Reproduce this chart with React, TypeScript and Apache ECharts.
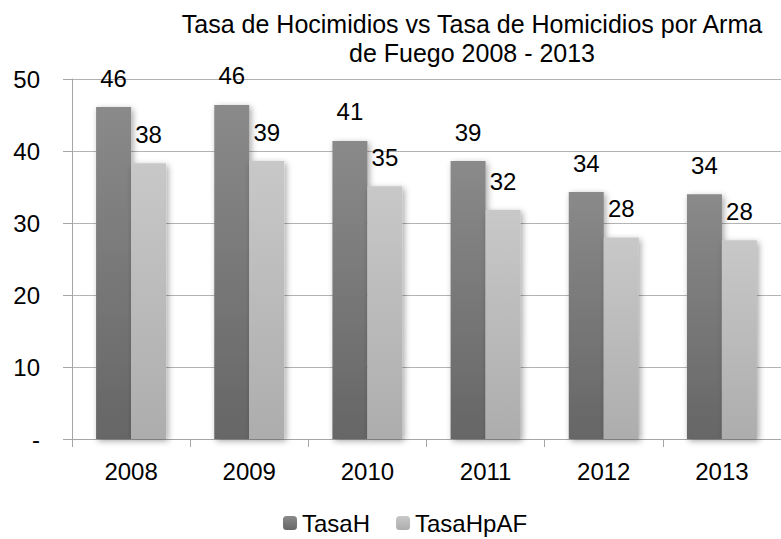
import React, { useEffect, useRef } from "react";
import * as echarts from "echarts";

const years = ["2008", "2009", "2010", "2011", "2012", "2013"];
const tasaH = [46.1, 46.4, 41.4, 38.6, 34.3, 34.0];
const tasaHpAF = [38.3, 38.6, 35.1, 31.8, 28.0, 27.6];

const FONT = "'Liberation Sans', Arial, sans-serif";

export default function App() {
  const ref = useRef<HTMLDivElement>(null);
  useEffect(() => {
    if (!ref.current) return;
    const chart = echarts.init(ref.current, undefined, { renderer: "svg" });
    const darkGrad = new echarts.graphic.LinearGradient(0, 0, 0, 1, [
      { offset: 0, color: "#8a8a8a" },
      { offset: 1, color: "#666666" },
    ]);
    const lightGrad = new echarts.graphic.LinearGradient(0, 0, 0, 1, [
      { offset: 0, color: "#c8c8c8" },
      { offset: 1, color: "#adadad" },
    ]);
    const labelCfg = {
      show: true,
      position: "top" as const,
      distance: 17,
      color: "#000",
      fontSize: 24,
      fontFamily: FONT,
      formatter: (p: any) => String(Math.round(p.value)),
    };
    const shadow = {
      shadowBlur: 6,
      shadowColor: "rgba(0,0,0,0.35)",
      shadowOffsetX: 2,
      shadowOffsetY: 2,
    };
    chart.setOption({
      animation: false,
      backgroundColor: "#fff",
      title: {
        text: "Tasa de Hocimidios vs Tasa de Homicidios por Arma\nde Fuego 2008 - 2013",
        left: 467,
        top: 4,
        textAlign: "center",
        textStyle: {
          fontSize: 25,
          fontWeight: "normal",
          color: "#000",
          fontFamily: FONT,
          lineHeight: 29,
        },
      },
      legend: {
        left: 278,
        top: 506,
        itemWidth: 14,
        itemHeight: 14,
        itemGap: 26,
        textStyle: { fontSize: 24, color: "#000", fontFamily: FONT },
        data: ["TasaH", "TasaHpAF"],
      },
      grid: { left: 72, top: 79, width: 718, height: 360, containLabel: false },
      xAxis: {
        type: "category",
        data: years,
        axisLine: { lineStyle: { color: "#a6a6a6", width: 1 } },
        axisTick: { show: true, length: 8, lineStyle: { color: "#a6a6a6" } },
        axisLabel: { fontSize: 24, color: "#000", fontFamily: FONT, margin: 20 },
      },
      yAxis: {
        type: "value",
        min: 0,
        max: 50,
        interval: 10,
        axisLine: { show: true, lineStyle: { color: "#a6a6a6", width: 1 } },
        axisTick: { show: true, length: 9, lineStyle: { color: "#a6a6a6" } },
        splitLine: { show: true, lineStyle: { color: "#b3b3b3", width: 1 } },
        axisLabel: {
          fontSize: 24,
          color: "#000",
          fontFamily: FONT,
          margin: 32,
          formatter: (v: number) => (v === 0 ? "-" : String(v)),
        },
      },
      series: [
        {
          name: "TasaH",
          type: "bar",
          data: tasaH,
          barWidth: 35,
          barGap: "0%",
          itemStyle: { color: darkGrad, ...shadow },
          label: labelCfg,
        },
        {
          name: "TasaHpAF",
          type: "bar",
          data: tasaHpAF,
          barWidth: 35,
          barGap: "0%",
          itemStyle: { color: lightGrad, ...shadow },
          label: labelCfg,
        },
      ],
    });
    return () => chart.dispose();
  }, []);
  return <div ref={ref} style={{ width: 781, height: 539, position: "absolute", left: 0, top: 0 }} />;
}
